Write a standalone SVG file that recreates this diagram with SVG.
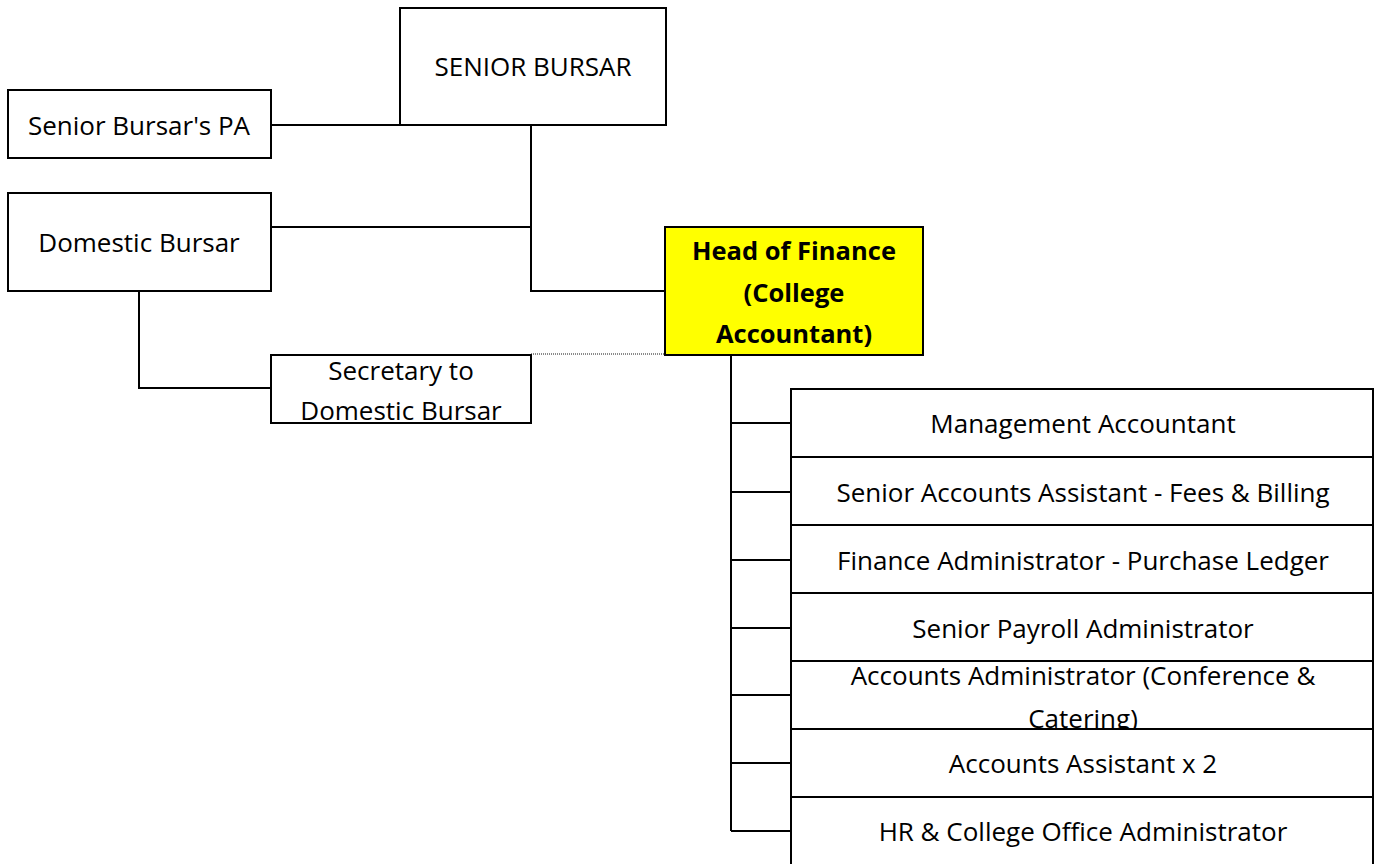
<svg xmlns="http://www.w3.org/2000/svg" width="1376" height="864" viewBox="0 0 1376 864">
  <style>
    .box { fill: #ffffff; stroke: #000000; stroke-width: 2; }
    .head { fill: #ffff00; stroke: #000000; stroke-width: 2; }
    .lbl { font-family: "Open Sans", "Noto Sans", "Liberation Sans", sans-serif; font-size: 26px; fill: #000000; text-anchor: middle; dominant-baseline: central; }
    .bold { font-weight: bold; font-size: 25.5px; }
    .wire { fill: none; stroke: #000000; stroke-width: 2; }
    .dotted { fill: none; stroke: #8a8a8a; stroke-width: 2; stroke-dasharray: 1 1; }
  </style>
  <rect width="1376" height="864" fill="#ffffff"/>

  <!-- reporting lines -->
  <g id="connectors">
    <path class="wire" d="M271 125 H400"/>
    <path class="wire" d="M531 125 V291 H665"/>
    <path class="wire" d="M271 227 H531"/>
    <path class="wire" d="M139 291 V388 H271"/>
    <path class="dotted" d="M531 354 H665"/>
    <path class="wire" d="M731 355 V831"/>
    <path class="wire" d="M731 423 H791 M731 492 H791 M731 560 H791 M731 628 H791 M731 695 H791 M731 763 H791 M731 831 H791"/>
  </g>

  <g id="senior-bursar">
    <rect class="box" x="400" y="8" width="266" height="117"/>
    <text class="lbl" x="533" y="66">SENIOR BURSAR</text>
  </g>

  <g id="senior-bursar-pa">
    <rect class="box" x="8" y="90" width="263" height="68"/>
    <text class="lbl" x="139" y="125">Senior Bursar's PA</text>
  </g>

  <g id="domestic-bursar">
    <rect class="box" x="8" y="193" width="263" height="98"/>
    <text class="lbl" x="139" y="242">Domestic Bursar</text>
  </g>

  <g id="secretary-domestic-bursar">
    <rect class="box" x="271" y="355" width="260" height="68"/>
    <text class="lbl" x="401" y="370">Secretary to</text>
    <text class="lbl" x="401" y="410">Domestic Bursar</text>
  </g>

  <g id="head-of-finance">
    <rect class="head" x="665" y="227" width="258" height="128"/>
    <text class="lbl bold" x="794" y="250">Head of Finance</text>
    <text class="lbl bold" x="794" y="292">(College</text>
    <text class="lbl bold" x="794" y="333">Accountant)</text>
  </g>

  <g id="management-accountant">
    <rect class="box" x="791" y="389" width="582" height="68"/>
    <text class="lbl" x="1083" y="423">Management Accountant</text>
  </g>

  <g id="senior-accounts-assistant">
    <rect class="box" x="791" y="457" width="582" height="68"/>
    <text class="lbl" x="1083" y="492">Senior Accounts Assistant - Fees &amp; Billing</text>
  </g>

  <g id="finance-administrator">
    <rect class="box" x="791" y="525" width="582" height="68"/>
    <text class="lbl" x="1083" y="560">Finance Administrator - Purchase Ledger</text>
  </g>

  <g id="senior-payroll-administrator">
    <rect class="box" x="791" y="593" width="582" height="68"/>
    <text class="lbl" x="1083" y="628">Senior Payroll Administrator</text>
  </g>

  <g id="accounts-administrator">
    <rect class="box" x="791" y="661" width="582" height="68"/>
    <text class="lbl" x="1083" y="675">Accounts Administrator (Conference &amp;</text>
    <text class="lbl" x="1083" y="718">Catering)</text>
  </g>

  <g id="accounts-assistant">
    <rect class="box" x="791" y="729" width="582" height="68"/>
    <text class="lbl" x="1083" y="763">Accounts Assistant x 2</text>
  </g>

  <g id="hr-college-office">
    <rect class="box" x="791" y="797" width="582" height="90"/>
    <text class="lbl" x="1083" y="831">HR &amp; College Office Administrator</text>
  </g>
</svg>
